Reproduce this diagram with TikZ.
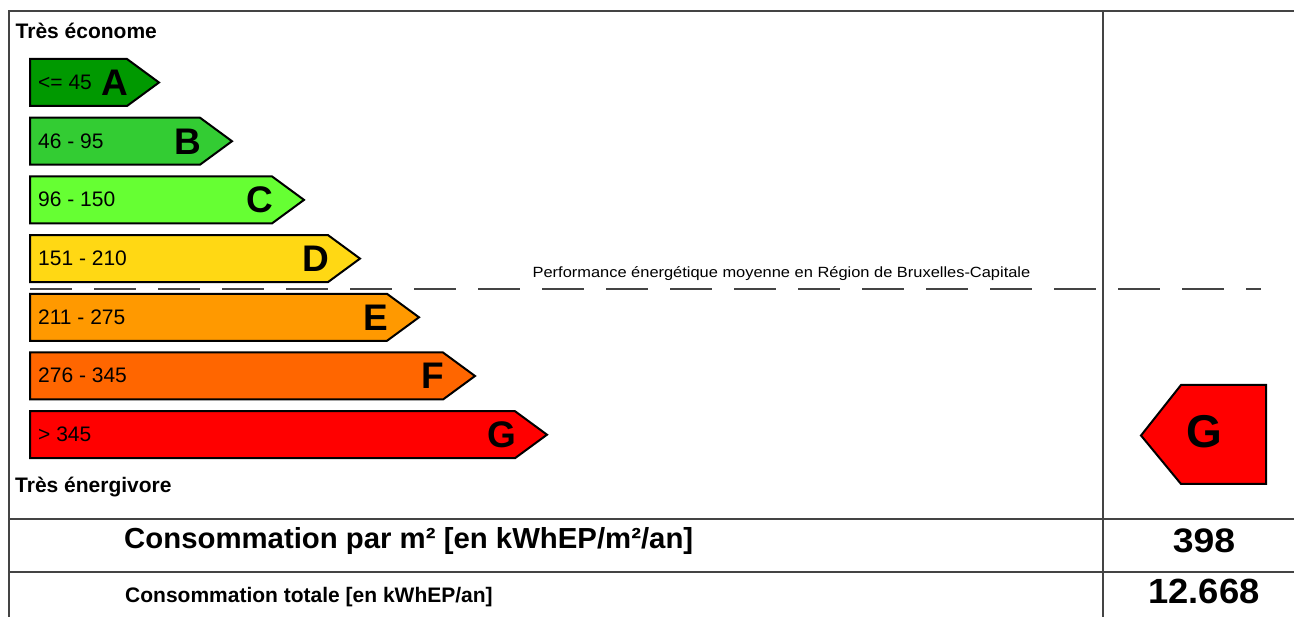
\documentclass[tikz,border=0pt]{standalone}
\usepackage{fontspec}
\setmainfont{Liberation Sans}
\definecolor{cA}{RGB}{0,153,0}
\definecolor{cB}{RGB}{51,204,51}
\definecolor{cC}{RGB}{102,255,51}
\definecolor{cD}{RGB}{255,216,20}
\definecolor{cE}{RGB}{255,153,0}
\definecolor{cF}{RGB}{255,102,0}
\definecolor{cG}{RGB}{255,0,0}
\definecolor{framegray}{RGB}{68,68,68}
\begin{document}
\begin{tikzpicture}[x=1pt,y=-1pt,
  frameline/.style={draw=framegray,line width=2.2pt},
  barshape/.style={draw=black,line width=2pt,line join=miter},
  rangelbl/.style={anchor=base west,inner sep=0pt,font=\fontsize{21}{25}\selectfont},
  letterlbl/.style={anchor=base east,inner sep=0pt,font=\fontsize{37}{40}\selectfont\bfseries},
  headlbl/.style={anchor=base west,inner sep=0pt,font=\fontsize{21}{25}\selectfont\bfseries},
  dashline/.style={draw=framegray,line width=2.6pt,dash pattern=on 42pt off 22pt}]
\useasboundingbox (0,0) rectangle (1294,617);
\fill[white] (0,0) rectangle (1294,617);
% frame
\coordinate (fbl) at (9,617);
\coordinate (ftl) at (9,11);
\coordinate (ftr) at (1294,11);
\coordinate (dtop) at (1103,11);
\coordinate (dbot) at (1103,617);
\coordinate (h1l) at (9,519);
\coordinate (h1r) at (1294,519);
\coordinate (h2l) at (9,572);
\coordinate (h2r) at (1294,572);
\draw[frameline] (fbl) -- (ftl) -- (ftr);
\draw[frameline] (dtop) -- (dbot);
\draw[frameline] (h1l) -- (h1r);
\draw[frameline] (h2l) -- (h2r);
% bars
\foreach \i/\r/\col/\lab/\lt in {0/127/cA/{<= 45}/A,1/200/cB/{46 - 95}/B,2/272/cC/{96 - 150}/C,3/328/cD/{151 - 210}/D,4/387/cE/{211 - 275}/E,5/443/cF/{276 - 345}/F,6/515/cG/{> 345}/G}{
  \pgfmathsetmacro\t{59+58.7*\i}
  \pgfmathsetmacro\b{\t+47}
  \pgfmathsetmacro\m{\t+23.5}
  \draw[barshape,fill=\col] (30,\t) -- (\r,\t) -- (\r+32,\m) -- (\r,\b) -- (30,\b) -- cycle;
  \node[rangelbl] (r\lt) at (38,\m+7) {\lab};
  \node[letterlbl] (l\lt) at (\r+1,\m+13) {\lt};
}
% headings
\node[headlbl] (top) at (15.5,39) {Très économe};
\node[headlbl] (bottom) at (15,493) {Très énergivore};
% average line
\coordinate (dl) at (30,289);
\coordinate (dr) at (1261,289);
\draw[dashline] (dl) -- (dr);
\node[anchor=base,inner sep=0pt,font=\fontsize{14.8}{17}\selectfont] (perf) at (781.5,278) {\scalebox{1.11}[1]{Performance énergétique moyenne en Région de Bruxelles-Capitale}};
% actual class
\draw[barshape,fill=cG] (1141,435.5) -- (1181,385) -- (1266,385) -- (1266,484) -- (1181,484) -- cycle;
\node[anchor=base,inner sep=0pt,font=\fontsize{46}{50}\selectfont\bfseries] (cls) at (1204,448) {G};
% rows
\node[anchor=base west,inner sep=0pt,font=\fontsize{29}{33}\selectfont\bfseries] (c1) at (124,548) {\scalebox{1.012}[1]{Consommation par m² [en kWhEP/m²/an]}};
\node[anchor=base west,inner sep=0pt,font=\fontsize{21}{25}\selectfont\bfseries] (c2) at (125,602) {Consommation totale [en kWhEP/an]};
\node[anchor=base,inner sep=0pt,font=\fontsize{34}{38}\selectfont\bfseries] (v1) at (1204,552) {\scalebox{1.1}[1]{398}};
\node[anchor=base,inner sep=0pt,font=\fontsize{35}{40}\selectfont\bfseries] (v2) at (1204,603) {\scalebox{1.04}[1]{12.668}};
\end{tikzpicture}
\end{document}
